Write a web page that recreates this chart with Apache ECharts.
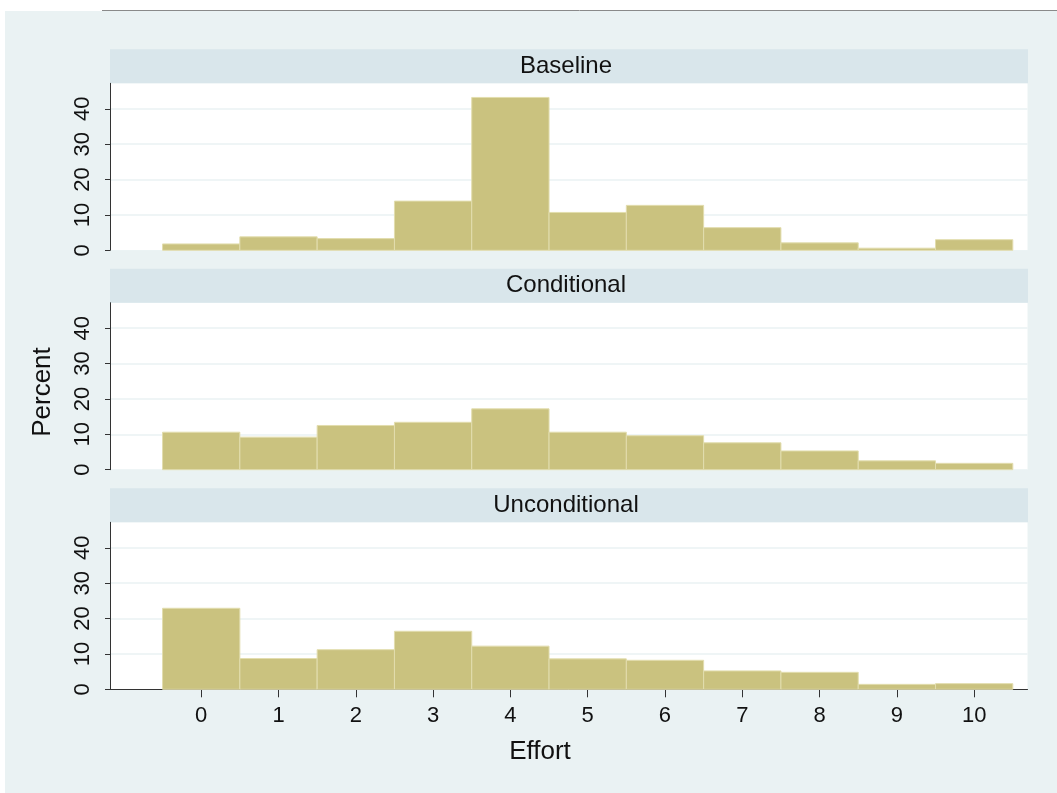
<!DOCTYPE html>
<html>
<head>
<meta charset="utf-8">
<script src="https://cdn.jsdelivr.net/npm/echarts@6/dist/echarts.min.js"></script>
<style>
  html, body { margin: 0; padding: 0; background: #ffffff; }
  #bg { position: absolute; left: 5px; top: 11px; width: 1052px; height: 782px; background: #eaf2f3; }
  #chart { position: absolute; left: 0; top: 0; width: 1057px; height: 793px; }
</style>
</head>
<body>
<div id="bg"></div>
<div id="chart"></div>
<script>
// ---- data ----
const categories = [0, 1, 2, 3, 4, 5, 6, 7, 8, 9, 10];
const baseline = [1.8, 3.8, 3.3, 13.9, 43.2, 10.7, 12.7, 6.4, 2.1, 0.6, 3.0];
const conditional = [10.6, 9.2, 12.5, 13.4, 17.2, 10.6, 9.6, 7.6, 5.3, 2.5, 1.8];
const unconditional = [22.9, 8.7, 11.2, 16.4, 12.2, 8.6, 8.2, 5.2, 4.8, 1.4, 1.6];
const panelTitles = ['Baseline', 'Conditional', 'Unconditional'];
const yTicks = [0, 10, 20, 30, 40];
const xTicks = [0, 1, 2, 3, 4, 5, 6, 7, 8, 9, 10];
const xTitle = 'Effort';
const yTitle = 'Percent';

// ---- layout ----
const FONT = "'Liberation Sans', Arial, sans-serif";
const plotLeft = 110, plotRight = 1027.5;
const plotTops = [83.3, 302.7, 522.3];
const plotH = 167;
const stripH = 34;
const yMax = 47.2;
const xMin = -1.18, xMax = 10.69;
const seriesData = [baseline, conditional, unconditional];

const grids = [], xAxes = [], yAxes = [], series = [], graphics = [];

graphics.push({
  type: 'line', shape: { x1: 102, y1: 10.5, x2: 1057, y2: 10.5 },
  style: { stroke: '#8a8a8a', lineWidth: 1 }
});

seriesData.forEach((vals, i) => {
  const isLast = i === seriesData.length - 1;
  grids.push({
    left: plotLeft, width: plotRight - plotLeft, top: plotTops[i], height: plotH,
    show: true, backgroundColor: '#ffffff', borderWidth: 0
  });
  xAxes.push({
    type: 'value', gridIndex: i, min: xMin, max: xMax,
    show: true,
    axisLine: { show: isLast, onZero: false, lineStyle: { color: '#333', width: 1 } },
    axisTick: { show: isLast, length: 8, lineStyle: { color: '#333' }, customValues: xTicks },
    axisLabel: { show: isLast, fontSize: 22, color: '#111', fontFamily: FONT, margin: 16, customValues: xTicks },
    splitLine: { show: false }
  });
  yAxes.push({
    type: 'value', gridIndex: i, min: 0, max: yMax,
    axisLine: { show: true, onZero: false, lineStyle: { color: '#333', width: 1 } },
    axisTick: { show: true, length: 5, lineStyle: { color: '#333' }, customValues: yTicks },
    axisLabel: { rotate: 90, fontSize: 22, color: '#111', fontFamily: FONT, margin: 16, customValues: yTicks },
    splitLine: { show: true, lineStyle: { color: '#eaf2f3', width: 1.5 } }
  });
  series.push({
    type: 'custom', xAxisIndex: i, yAxisIndex: i,
    data: categories.map((c, k) => [c, vals[k]]),
    encode: { x: 0, y: 1 },
    renderItem: function (params, api) {
      const x = api.value(0), v = api.value(1);
      const p0 = api.coord([x - 0.5, v]);
      const p1 = api.coord([x + 0.5, 0]);
      return {
        type: 'rect',
        shape: { x: p0[0], y: p0[1], width: p1[0] - p0[0], height: p1[1] - p0[1] },
        style: { fill: '#cac27f', stroke: '#e2ddae', lineWidth: 1 }
      };
    },
    silent: true
  });
  // strip
  graphics.push({
    type: 'rect',
    shape: { x: plotLeft, y: plotTops[i] - stripH, width: 1028 - plotLeft, height: stripH },
    style: { fill: '#d9e6eb' }
  });
  graphics.push({
    type: 'text', x: (plotLeft + 1028) / 2 - 3, y: plotTops[i] - stripH / 2,
    style: { text: panelTitles[i], fontSize: 24, fill: '#111', fontFamily: FONT,
             textAlign: 'center', textVerticalAlign: 'middle' }
  });
});

graphics.push({
  type: 'text', x: 43, y: 392, rotation: Math.PI / 2,
  style: { text: yTitle, fontSize: 26, fill: '#111', fontFamily: FONT,
           textAlign: 'center', textVerticalAlign: 'middle' }
});
graphics.push({
  type: 'text', x: 540, y: 752,
  style: { text: xTitle, fontSize: 26, fill: '#111', fontFamily: FONT,
           textAlign: 'center', textVerticalAlign: 'middle' }
});

const chart = echarts.init(document.getElementById('chart'), null, { renderer: 'canvas' });
chart.setOption({
  backgroundColor: 'transparent',
  animation: false,
  grid: grids,
  xAxis: xAxes,
  yAxis: yAxes,
  series: series,
  graphic: graphics
});
</script>
</body>
</html>
